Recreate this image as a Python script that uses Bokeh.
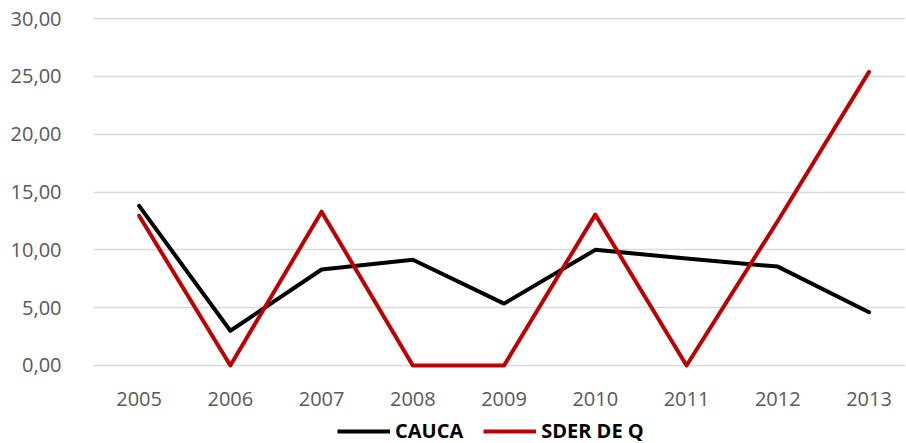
from bokeh.plotting import figure
from bokeh.layouts import column
from bokeh.models import FixedTicker, Legend, LegendItem, Range1d
from bokeh.embed import file_html
from bokeh.resources import INLINE

years = [2005, 2006, 2007, 2008, 2009, 2010, 2011, 2012, 2013]
cauca = [13.8, 3.0, 8.3, 9.15, 5.35, 10.0, 9.25, 8.55, 4.6]
sder_de_q = [12.95, 0.0, 13.3, 0.0, 0.0, 13.05, 0.0, 12.5, 25.4]
y_ticks = [0, 5, 10, 15, 20, 25, 30]
y_tick_labels = ["0,00", "5,00", "10,00", "15,00", "20,00", "25,00", "30,00"]
series_names = ["CAUCA", "SDER DE Q"]
colors = ["black", "#C00000"]

FONT = "Open Sans"

p = figure(frame_width=812, frame_height=352, output_backend="svg", toolbar_location=None,
           x_range=Range1d(2004.5, 2013.4), y_range=Range1d(-0.35, 30.1),
           min_border_left=93, min_border_right=0, min_border_top=17,
           min_border_bottom=48)
p.outline_line_color = None
p.background_fill_color = "white"
p.border_fill_color = "white"

p.xgrid.grid_line_color = None
p.ygrid.grid_line_color = "#D9D9D9"
p.ygrid.grid_line_width = 1.3

p.yaxis.ticker = FixedTicker(ticks=y_ticks)
p.yaxis.major_label_overrides = {t: l for t, l in zip(y_ticks, y_tick_labels)}
p.xaxis.ticker = FixedTicker(ticks=years)
p.xaxis.major_label_overrides = {y: str(y) for y in years}

for ax in (p.xaxis[0], p.yaxis[0]):
    ax.axis_line_color = None
    ax.major_tick_line_color = None
    ax.minor_tick_line_color = None
    ax.major_label_text_font = FONT
    ax.major_label_text_font_size = "20px"
    ax.major_label_text_color = "#595959"
p.yaxis.major_label_standoff = 26
p.xaxis.major_label_standoff = 16

p.line(years, cauca, line_color=colors[0], line_width=4, line_join="round", line_cap="round")
p.line(years, sder_de_q, line_color=colors[1], line_width=4, line_join="round", line_cap="round")

# separate strip holding the legend below the chart (frames are aligned by the column)
lf = figure(width=905, height=27, output_backend="svg", toolbar_location=None,
            x_range=Range1d(0, 1), y_range=Range1d(0, 1),
            x_axis_type=None, y_axis_type=None, min_border=0)
lf.outline_line_color = None
lf.xgrid.grid_line_color = None
lf.ygrid.grid_line_color = None
lr1 = lf.line(years, cauca, line_color=colors[0], line_width=4)
lr2 = lf.line(years, sder_de_q, line_color=colors[1], line_width=4)

legend = Legend(items=[LegendItem(label=series_names[0], renderers=[lr1]),
                       LegendItem(label=series_names[1], renderers=[lr2])],
                orientation="horizontal", location=(244, 0),
                glyph_width=53, glyph_height=16, label_standoff=5, spacing=20,
                label_text_font=FONT, label_text_font_size="20px",
                label_text_font_style="bold", label_text_color="black",
                border_line_color=None, background_fill_alpha=0,
                padding=0, margin=0)
lf.add_layout(legend)

open("out.html", "w").write(file_html(column(p, lf), INLINE))
